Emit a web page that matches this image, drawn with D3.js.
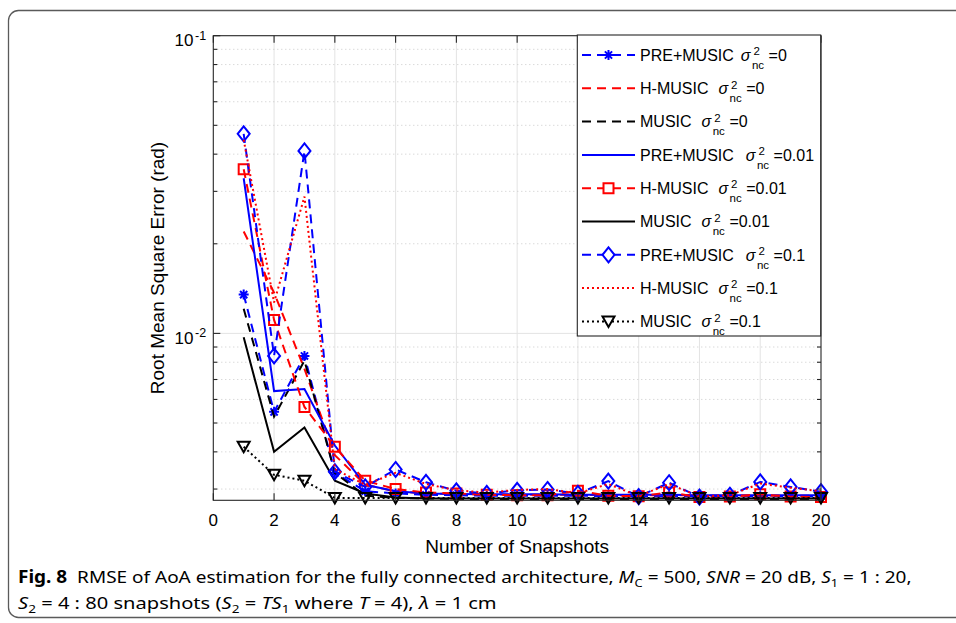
<!DOCTYPE html>
<html>
<head>
<meta charset="utf-8">
<script src="https://cdn.jsdelivr.net/npm/d3@7"></script>
<style>
  body { margin: 0; background: #fff; }
  svg { display: block; }
  text { font-family: "Liberation Sans", Arial, Helvetica, sans-serif; fill: #000; }
</style>
</head>
<body>
<svg id="chart" width="956" height="623"></svg>
<script>
// ---- data: RMSE (rad) versus number of snapshots ----
const snapshots = d3.range(1, 21);

const preMusic0   = [0.0135, 0.00545, 0.0084, 0.0034, 0.00295, 0.0029, 0.00287, 0.00286, 0.00285, 0.00285, 0.00285, 0.00285, 0.00284, 0.00284, 0.00284, 0.00284, 0.00284, 0.00284, 0.00284, 0.00284];
const hMusic0     = [0.0220, 0.0137, 0.0076, 0.0039, 0.0031, 0.00295, 0.0029, 0.00289, 0.00288, 0.00287, 0.00287, 0.00287, 0.00286, 0.00286, 0.00286, 0.00286, 0.00285, 0.00285, 0.00285, 0.00285];
const music0      = [0.0121, 0.00525, 0.0081, 0.0034, 0.00285, 0.0028, 0.00279, 0.00278, 0.00278, 0.00278, 0.00278, 0.00278, 0.00278, 0.00278, 0.00278, 0.00278, 0.00278, 0.00278, 0.00278, 0.00278];
const preMusic001 = [0.0332, 0.0064, 0.0065, 0.0042, 0.0031, 0.00295, 0.0029, 0.00289, 0.00288, 0.00288, 0.00288, 0.00287, 0.00287, 0.00287, 0.00287, 0.00286, 0.00286, 0.00286, 0.00286, 0.00286];
const hMusic001   = [0.0356, 0.0111, 0.00566, 0.00416, 0.0032, 0.0030, 0.00292, 0.0029, 0.00287, 0.00286, 0.00286, 0.00296, 0.00285, 0.00284, 0.00292, 0.00282, 0.00283, 0.00288, 0.00283, 0.00282];
const music001    = [0.0097, 0.0040, 0.00483, 0.0032, 0.0029, 0.00281, 0.00279, 0.00279, 0.00279, 0.00279, 0.00279, 0.00279, 0.00279, 0.00279, 0.00279, 0.00279, 0.00279, 0.00279, 0.00279, 0.00279];
const preMusic01  = [0.0468, 0.0084, 0.041, 0.00343, 0.00305, 0.00349, 0.00316, 0.00296, 0.0029, 0.00297, 0.00299, 0.0029, 0.00319, 0.00283, 0.00315, 0.00282, 0.00286, 0.00317, 0.00305, 0.00294];
const hMusic01    = [0.0447, 0.0127, 0.0288, 0.0035, 0.0031, 0.0034, 0.00312, 0.00297, 0.00292, 0.00298, 0.0030, 0.0029, 0.00312, 0.00284, 0.00312, 0.00283, 0.00286, 0.00313, 0.00303, 0.00295];
const music01     = [0.00416, 0.00335, 0.0032, 0.0028, 0.0028, 0.0028, 0.0028, 0.0028, 0.0028, 0.0028, 0.0028, 0.0028, 0.0028, 0.0028, 0.0028, 0.0028, 0.0028, 0.0028, 0.0028, 0.0028];

const xTickValues = [0, 2, 4, 6, 8, 10, 12, 14, 16, 18, 20];
const yMajorTicks = [0.01, 0.1];
const yTickExponents = ["-2", "-1"];
const yMinorTicks = [0.003, 0.004, 0.005, 0.006, 0.007, 0.008, 0.009, 0.02, 0.03, 0.04, 0.05, 0.06, 0.07, 0.08, 0.09];

const methodNames = ["PRE+MUSIC", "H-MUSIC", "MUSIC", "PRE+MUSIC", "H-MUSIC", "MUSIC", "PRE+MUSIC", "H-MUSIC", "MUSIC"];
const noiseLevels = ["0", "0", "0", "0.01", "0.01", "0.01", "0.1", "0.1", "0.1"];

const xLabel = "Number of Snapshots";
const yLabel = "Root Mean Square Error (rad)";

// ---- series styling ----
const BLUE = "#0000ff", RED = "#ff0000", BLACK = "#000000";
const DASH = "9,6", DOT = "2,3";
const seriesValues = [preMusic0, hMusic0, music0, preMusic001, hMusic001, music001, preMusic01, hMusic01, music01];
const seriesStyle = [
  { color: BLUE,  dash: DASH, marker: "asterisk", gap: 7 },
  { color: RED,   dash: DASH, marker: null,       gap: 10 },
  { color: BLACK, dash: DASH, marker: null,       gap: 10 },
  { color: BLUE,  dash: null, marker: null,       gap: 12 },
  { color: RED,   dash: DASH, marker: "square",   gap: 10 },
  { color: BLACK, dash: null, marker: null,       gap: 10 },
  { color: BLUE,  dash: DASH, marker: "diamond",  gap: 12 },
  { color: RED,   dash: DOT,  marker: null,       gap: 10 },
  { color: BLACK, dash: DOT,  marker: "triangle", gap: 10 }
];
const series = seriesValues.map((values, i) => ({
  name: methodNames[i], level: noiseLevels[i], values, ...seriesStyle[i]
}));

// ---- layout ----
const svg = d3.select("#chart");
const plot = { left: 213.3, right: 821, top: 35.7, bottom: 500.3 };
const AXIS = "#262626";

const x = d3.scaleLinear().domain([0, 20]).range([plot.left, plot.right]);
const y = d3.scaleLog().domain([0.00275, 0.1]).range([plot.bottom, plot.top]);

// outer figure frame
svg.append("rect")
  .attr("x", 8.5).attr("y", 10.5).attr("width", 1100).attr("height", 607)
  .attr("rx", 10).attr("ry", 10)
  .attr("fill", "none").attr("stroke", "#5a5a5a").attr("stroke-width", 1.3);

// ---- grid ----
const grid = svg.append("g");
grid.selectAll("line.gx").data(xTickValues.filter(v => v > 0 && v < 20)).join("line")
  .attr("x1", d => x(d)).attr("x2", d => x(d))
  .attr("y1", plot.top).attr("y2", plot.bottom)
  .attr("stroke", "#e3e3e3").attr("stroke-width", 1);
grid.selectAll("line.gmin").data(yMinorTicks).join("line")
  .attr("x1", plot.left).attr("x2", plot.right)
  .attr("y1", d => y(d)).attr("y2", d => y(d))
  .attr("stroke", "#c4c4c4").attr("stroke-width", 0.9).attr("stroke-dasharray", "1,3");
grid.selectAll("line.gmaj").data(yMajorTicks.filter(v => v < 0.1)).join("line")
  .attr("x1", plot.left).attr("x2", plot.right)
  .attr("y1", d => y(d)).attr("y2", d => y(d))
  .attr("stroke", "#e3e3e3").attr("stroke-width", 1);

// ---- markers ----
function markerPath(type) {
  switch (type) {
    case "asterisk": return "M-5,0H5M0,-5V5M-3.6,-3.6L3.6,3.6M-3.6,3.6L3.6,-3.6";
    case "square":   return "M-5,-5H5V5H-5Z";
    case "diamond":  return "M0,-7.5L6,0L0,7.5L-6,0Z";
    case "triangle": return "M-6,-5H6L0,5.5Z";
  }
  return null;
}

const line = d3.line()
  .x((d, i) => x(snapshots[i]))
  .y(d => y(d));

const dataLayer = svg.append("g");
series.forEach(s => {
  const g = dataLayer.append("g");
  g.append("path")
    .attr("d", line(s.values))
    .attr("fill", "none")
    .attr("stroke", s.color)
    .attr("stroke-width", 2)
    .attr("stroke-dasharray", s.dash)
    .attr("stroke-linejoin", "miter");
  if (s.marker) {
    g.selectAll("path.m").data(s.values).join("path")
      .attr("transform", (d, i) => `translate(${x(snapshots[i])},${y(d)})`)
      .attr("d", markerPath(s.marker))
      .attr("fill", "none")
      .attr("stroke", s.color)
      .attr("stroke-width", 2);
  }
});

// ---- axes box and ticks ----
const axes = svg.append("g").attr("stroke", AXIS).attr("stroke-width", 1.1);
axes.append("rect")
  .attr("x", plot.left).attr("y", plot.top)
  .attr("width", plot.right - plot.left).attr("height", plot.bottom - plot.top)
  .attr("fill", "none");
xTickValues.forEach(v => {
  axes.append("line").attr("x1", x(v)).attr("x2", x(v)).attr("y1", plot.bottom).attr("y2", plot.bottom - 7);
  axes.append("line").attr("x1", x(v)).attr("x2", x(v)).attr("y1", plot.top).attr("y2", plot.top + 7);
});
yMajorTicks.forEach(v => {
  axes.append("line").attr("x1", plot.left).attr("x2", plot.left + 7).attr("y1", y(v)).attr("y2", y(v));
  axes.append("line").attr("x1", plot.right).attr("x2", plot.right - 7).attr("y1", y(v)).attr("y2", y(v));
});
yMinorTicks.forEach(v => {
  axes.append("line").attr("x1", plot.left).attr("x2", plot.left + 4).attr("y1", y(v)).attr("y2", y(v));
  axes.append("line").attr("x1", plot.right).attr("x2", plot.right - 4).attr("y1", y(v)).attr("y2", y(v));
});

// x tick labels
svg.append("g").selectAll("text").data(xTickValues).join("text")
  .attr("x", d => x(d)).attr("y", plot.bottom + 26)
  .attr("text-anchor", "middle").attr("font-size", 17)
  .text(d => d);

// y tick labels: 10 with superscript exponent
yMajorTicks.forEach((v, i) => {
  svg.append("text")
    .attr("x", 193.5).attr("y", y(v) + 10.5)
    .attr("text-anchor", "end").attr("font-size", 17)
    .text("10");
  svg.append("text")
    .attr("x", 195).attr("y", y(v) + 4)
    .attr("font-size", 12.5)
    .text(yTickExponents[i]);
});

// axis titles
svg.append("text")
  .attr("x", (plot.left + plot.right) / 2).attr("y", 553)
  .attr("text-anchor", "middle").attr("font-size", 19)
  .text(xLabel);
svg.append("text")
  .attr("transform", `translate(164,${(plot.top + plot.bottom) / 2}) rotate(-90)`)
  .attr("text-anchor", "middle").attr("font-size", 19)
  .text(yLabel);

// ---- legend ----
const legend = svg.append("g");
const lg = { x: 577.3, y: 35, w: 243.4, h: 301, row0: 55, rowStep: 33.3 };
legend.append("rect")
  .attr("x", lg.x).attr("y", lg.y).attr("width", lg.w).attr("height", lg.h)
  .attr("fill", "#fff").attr("stroke", AXIS).attr("stroke-width", 1.1);

series.forEach((s, i) => {
  const cy = lg.row0 + i * lg.rowStep;
  const base = cy + 5.7;
  legend.append("line")
    .attr("x1", 582).attr("x2", 635).attr("y1", cy).attr("y2", cy)
    .attr("stroke", s.color).attr("stroke-width", 2)
    .attr("stroke-dasharray", s.dash);
  if (s.marker) {
    legend.append("path")
      .attr("transform", `translate(608.5,${cy})`)
      .attr("d", markerPath(s.marker))
      .attr("fill", "#fff").attr("stroke", s.color).attr("stroke-width", 2);
  }
  const nameText = legend.append("text")
    .attr("x", 640).attr("y", base).attr("font-size", 16).text(s.name);
  let cx = 640 + nameText.node().getComputedTextLength() + s.gap;
  const sigma = legend.append("text")
    .attr("x", cx).attr("y", base).attr("font-size", 16)
    .attr("font-style", "italic").text("σ");
  cx += sigma.node().getComputedTextLength() + 1.5;
  // stacked exponent (above) and subscript (below)
  const sup = legend.append("text")
    .attr("x", cx + 1.5).attr("y", base - 5.5).attr("font-size", 11.5).text("2");
  const sub = legend.append("text")
    .attr("x", cx).attr("y", base + 8).attr("font-size", 11.5).text("nc");
  const after = Math.max(cx + 1.5 + sup.node().getComputedTextLength(), cx + sub.node().getComputedTextLength());
  legend.append("text")
    .attr("x", after + 4.5).attr("y", base).attr("font-size", 16).text("=" + s.level);
});

// ---- caption ----
const captionLines = [
  { y: 583, width: 894, runs: [
    { t: "Fig. 8", b: true }, { t: "  RMSE of AoA estimation for the fully connected architecture, " },
    { t: "M", i: true }, { t: "C", sub: true }, { t: " = 500, " },
    { t: "SNR", i: true }, { t: " = 20 dB, " },
    { t: "S", i: true }, { t: "1", sub: true }, { t: " = 1 : 20," }
  ]},
  { y: 609, width: 479, runs: [
    { t: "S", i: true }, { t: "2", sub: true }, { t: " = 4 : 80 snapshots (" },
    { t: "S", i: true }, { t: "2", sub: true }, { t: " = " },
    { t: "TS", i: true }, { t: "1", sub: true }, { t: " where " },
    { t: "T", i: true }, { t: " = 4), " },
    { t: "λ", i: true }, { t: " = 1 cm" }
  ]}
];
captionLines.forEach(ln => {
  const t = svg.append("text")
    .attr("x", 0).attr("y", 0)
    .attr("font-size", 17)
    .style("font-family", "'Noto Sans', 'Open Sans', sans-serif")
    .attr("xml:space", "preserve");
  let shifted = false;
  ln.runs.forEach(r => {
    const sp = t.append("tspan").text(r.t);
    if (r.b) sp.attr("font-weight", "bold");
    if (r.i) sp.attr("font-style", "italic");
    if (r.sub) { sp.attr("font-size", 11.5).attr("dy", 4); shifted = true; }
    else if (shifted) { sp.attr("dy", -4); shifted = false; }
  });
  const w = t.node().getBBox().width;
  t.attr("transform", `translate(18,${ln.y}) scale(${ln.width / w},1)`);
});
</script>
</body>
</html>
